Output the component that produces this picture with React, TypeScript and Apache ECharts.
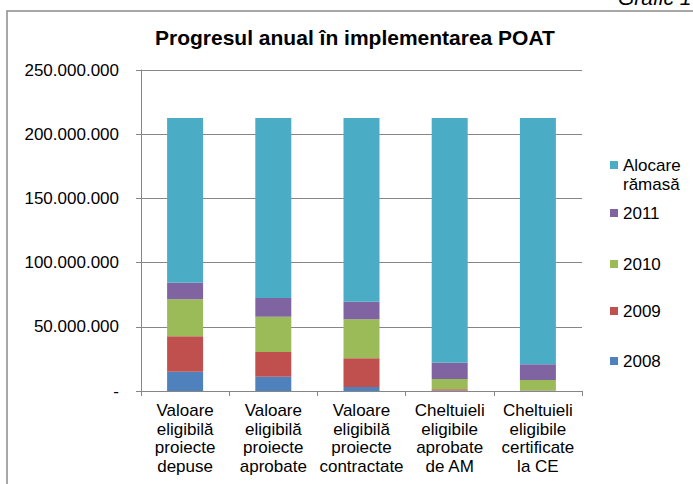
import React, { useEffect, useRef } from "react";
import * as echarts from "echarts";

const categories = [
  "Valoare\neligibilă\nproiecte\ndepuse",
  "Valoare\neligibilă\nproiecte\naprobate",
  "Valoare\neligibilă\nproiecte\ncontractate",
  "Cheltuieli\neligibile\naprobate\nde AM",
  "Cheltuieli\neligibile\ncertificate\nla CE",
];

const values2008 = [15000000, 11100000, 3100000, 300000, 200000];
const values2009 = [27600000, 19300000, 22400000, 1000000, 200000];
const values2010 = [28800000, 27500000, 30300000, 8000000, 8200000];
const values2011 = [12900000, 14500000, 13700000, 12700000, 12200000];
const valuesRemaining = [128300000, 140200000, 143100000, 190600000, 191800000];

const yTicks = [0, 50000000, 100000000, 150000000, 200000000, 250000000];

const seriesNames = ["2008", "2009", "2010", "2011", "Alocare rămasă"];
const seriesColors = ["#4F81BD", "#C0504D", "#9BBB59", "#8064A2", "#4BACC6"];

const FONT = "'Liberation Sans', Arial, sans-serif";

function fmt(v: number): string {
  if (v === 0) return "-";
  return String(Math.round(v)).replace(/\B(?=(\d{3})+(?!\d))/g, ".");
}

export default function App() {
  const ref = useRef<HTMLDivElement>(null);
  useEffect(() => {
    if (!ref.current) return;
    const chart = echarts.init(ref.current, undefined, { renderer: "svg" });
    const dataSets = [values2008, values2009, values2010, values2011, valuesRemaining];
    const legendCenters: Record<string, number> = {
      "Alocare rămasă": 165,
      "2011": 213,
      "2010": 264,
      "2009": 311,
      "2008": 361,
    };
    const legends = seriesNames.map((name) => {
      const isAloc = name === "Alocare rămasă";
      return {
        data: [name],
        left: 610,
        top: isAloc ? legendCenters[name] - 28.5 : legendCenters[name] - 10,
        orient: "vertical",
        padding: 0,
        icon: "rect",
        itemWidth: 8,
        itemHeight: 8,
        selectedMode: false,
        formatter: isAloc ? "\nAlocare\nrămasă" : "{name}",
        textStyle: {
          fontFamily: FONT,
          fontSize: 17,
          color: "#000",
          lineHeight: isAloc ? 19 : 20,
        },
      };
    });
    chart.setOption({
      animation: false,
      backgroundColor: "#fff",
      title: {
        text: "Progresul anual în implementarea POAT",
        left: 155,
        top: 27,
        padding: 0,
        textStyle: { fontFamily: FONT, fontSize: 21, fontWeight: "bold", color: "#000" },
      },
      legend: legends,
      grid: { left: 141, right: 111, top: 70, bottom: 93, containLabel: false },
      xAxis: {
        type: "category",
        data: categories,
        axisLine: { show: true, lineStyle: { color: "#868686", width: 1 } },
        axisTick: { show: true, length: 5, lineStyle: { color: "#868686" } },
        axisLabel: {
          interval: 0,
          margin: 10,
          fontFamily: FONT,
          fontSize: 17,
          lineHeight: 18.7,
          color: "#000",
        },
      },
      yAxis: {
        type: "value",
        min: 0,
        max: 250000000,
        interval: 50000000,
        axisLine: { show: true, lineStyle: { color: "#868686", width: 1 } },
        axisTick: { show: true, length: 5, lineStyle: { color: "#868686" } },
        splitLine: { show: true, lineStyle: { color: "#868686", width: 1 } },
        axisLabel: {
          margin: 22,
          fontFamily: FONT,
          fontSize: 17,
          color: "#000",
          formatter: (v: number) => (yTicks.includes(v) ? fmt(v) : ""),
        },
      },
      series: seriesNames.map((name, i) => ({
        name,
        type: "bar",
        stack: "total",
        barWidth: 36,
        data: dataSets[i],
        itemStyle: { color: seriesColors[i] },
        emphasis: { disabled: true },
      })),
      graphic: [
        {
          type: "rect",
          shape: { x: 7, y: 11, width: 720, height: 520 },
          style: { fill: "none", stroke: "#8a8a8a", lineWidth: 1.5 },
          silent: true,
        },
        {
          type: "text",
          x: 618,
          y: 8,
          style: {
            text: "Grafic 1",
            fontFamily: FONT,
            fontSize: 21,
            fontStyle: "italic",
            fill: "#000",
            verticalAlign: "bottom",
          },
          silent: true,
        },
      ],
    });
    return () => chart.dispose();
  }, []);
  return (
    <div
      ref={ref}
      style={{ position: "absolute", left: 0, top: 0, width: 693, height: 484 }}
    />
  );
}
